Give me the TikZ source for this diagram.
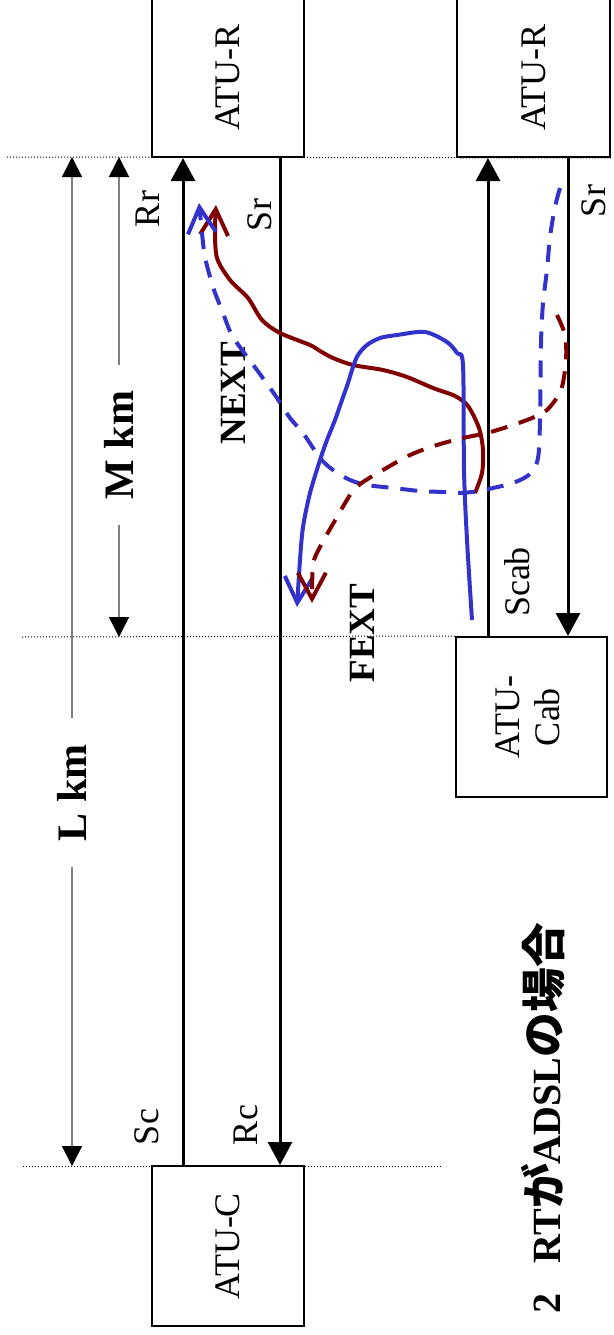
\documentclass[tikz,border=0pt]{standalone}
\usepackage{fontspec}
\setmainfont{Liberation Serif}
\newfontfamily\cjk{Noto Sans CJK JP}[Scale=1.12]
\usetikzlibrary{arrows.meta,positioning}
\definecolor{linkred}{RGB}{128,0,0}
\definecolor{linkblue}{RGB}{51,51,204}
\definecolor{dimgray}{RGB}{128,128,128}
\tikzset{
  unit/.style={draw, line width=2pt, minimum width=152pt, inner sep=0pt,
               font=\fontsize{36}{40}\selectfont},
  sig/.style={line width=3pt, -{Triangle[length=23pt,width=24pt]}},
  dimline/.style={draw=dimgray, line width=1.6pt,
                  {Triangle[length=20pt,width=20pt,black]}-{Triangle[length=20pt,width=20pt,black]}},
  dimtext/.style={fill=white, rotate=90, inner xsep=26pt, inner ysep=0pt, text=black,
                  font=\fontsize{42}{46}\selectfont\bfseries},
  guide/.style={line width=1pt, dash pattern=on 1pt off 2pt},
  port/.style={rotate=90, font=\fontsize{36}{40}\selectfont},
  xtalk/.style={rotate=90, font=\fontsize{37}{40}\selectfont\bfseries},
  noise/.style={line width=4pt, line join=round, -{Straight Barb[length=26pt,width=28pt]}},
  noisedash/.style={noise, dash pattern=on 17pt off 12pt},
}

\begin{document}
\begin{tikzpicture}[x=1pt, y=-1pt]
\path[use as bounding box, fill=white] (0,0) rectangle (613,1335);
\clip (0,0) rectangle (613,1335);

% units
\node[unit, minimum height=159pt] (atur) at (228,77.5) {\rotatebox{90}{ATU-R}};
\node[unit, minimum width=153pt, minimum height=159pt] (aturb) at (533.5,77.5) {\rotatebox{90}{ATU-R}};
\node[unit, minimum width=151pt, minimum height=160pt, align=center] (atucab) at (531.5,717)
  {\rotatebox{90}{\begin{tabular}{@{}c@{}}ATU-\\Cab\end{tabular}}};
\node[unit, minimum height=160pt] (atuc) at (228,1246) {\rotatebox{90}{ATU-C}};

% reference lines
\coordinate (gtop) at (7,157);
\coordinate (gmid) at (22,637);
\coordinate (gbot) at (23,1166);
\coordinate (gend) at (442,1166);
\draw[guide] (gtop) -- (aturb.south east);
\draw[guide] (gmid) -- (atucab.north west);
\draw[guide] (gbot) -- (gend);

% lanes
\coordinate (lnA) at (183,0);
\coordinate (lnB) at (280,0);
\coordinate (lnC) at (488,0);
\coordinate (lnD) at (568,0);
\draw[sig] (atuc.north -| lnA) -- (atur.south -| lnA);
\draw[sig] (atur.south -| lnB) -- (atuc.north -| lnB);
\draw[sig] (atucab.north -| lnC) -- (aturb.south -| lnC);
\draw[sig] (aturb.south -| lnD) -- (atucab.north -| lnD);

% distances
\coordinate (dimL) at (72,0);
\coordinate (dimM) at (119,0);
\draw[dimline] (gtop -| dimL) -- node[dimtext, pos=0.63] {L km} (gbot -| dimL);
\draw[dimline] (gtop -| dimM) -- node[dimtext, pos=0.6] {M km} (gmid -| dimM);

% port labels
\node[port] (rr) at (148,209) {Rr};
\node[port] (sr) at (260,215) {Sr};
\node[port] (srb) at (594,201) {Sr};
\node[port] (scab) at (517,582) {Scab};
\node[port] (sc) at (147,1127) {Sc};
\node[port] (rc) at (246,1125) {Rc};
\node[xtalk] (next) at (233,393) {NEXT};
\node[xtalk] (fext) at (362,633) {FEXT};

% crosstalk paths
\draw[noise, linkred] plot[smooth, tension=0.5] coordinates {
  (475,493) (482,473) (483,450) (479,428) (468,406) (455,396) (433,388)
  (407,377) (383,370) (353,365) (333,358) (320,351) (310,345) (280,333)
  (262,320) (248,298) (230,280) (217,258) (215,230) (216,205)};
\draw[noise, linkblue] plot[smooth, tension=0.5] coordinates {
  (472,620) (467,540) (464,470) (463,365) (457,353) (447,342) (425,332)
  (397,335) (380,338) (367,345) (358,355) (353,367) (348,383) (342,400)
  (335,420) (327,440) (320,460) (310,493) (303,527) (300,560) (297,607)};
\draw[noisedash, linkblue] plot[smooth, tension=0.5] coordinates {
  (560,188) (555,207) (550,237) (547,270) (543,303) (541,343) (540,420)
  (538,458) (530,474) (513,483) (493,488) (480,491) (460,493) (443,492)
  (420,491) (393,488) (367,485) (350,480) (333,470) (320,458) (303,433)
  (290,418) (275,395) (257,370) (233,337) (223,313) (213,287) (205,257)
  (202,233) (199,203)};
\draw[noisedash, linkred] plot[smooth, tension=0.5] coordinates {
  (557,315) (565,335) (566,360) (561,390) (547,410) (532,418) (510,426)
  (487,433) (463,438) (437,445) (410,455) (383,470) (363,482) (352,492)
  (337,517) (320,547) (313,565) (312,603)};

% caption
\node[rotate=90, font=\fontsize{40}{44}\selectfont\bfseries] (caption) at (543,1118)
  {2\hspace{0.75em}RT{\cjk が}ADSL{\cjk の場合}};
\end{tikzpicture}
\end{document}
